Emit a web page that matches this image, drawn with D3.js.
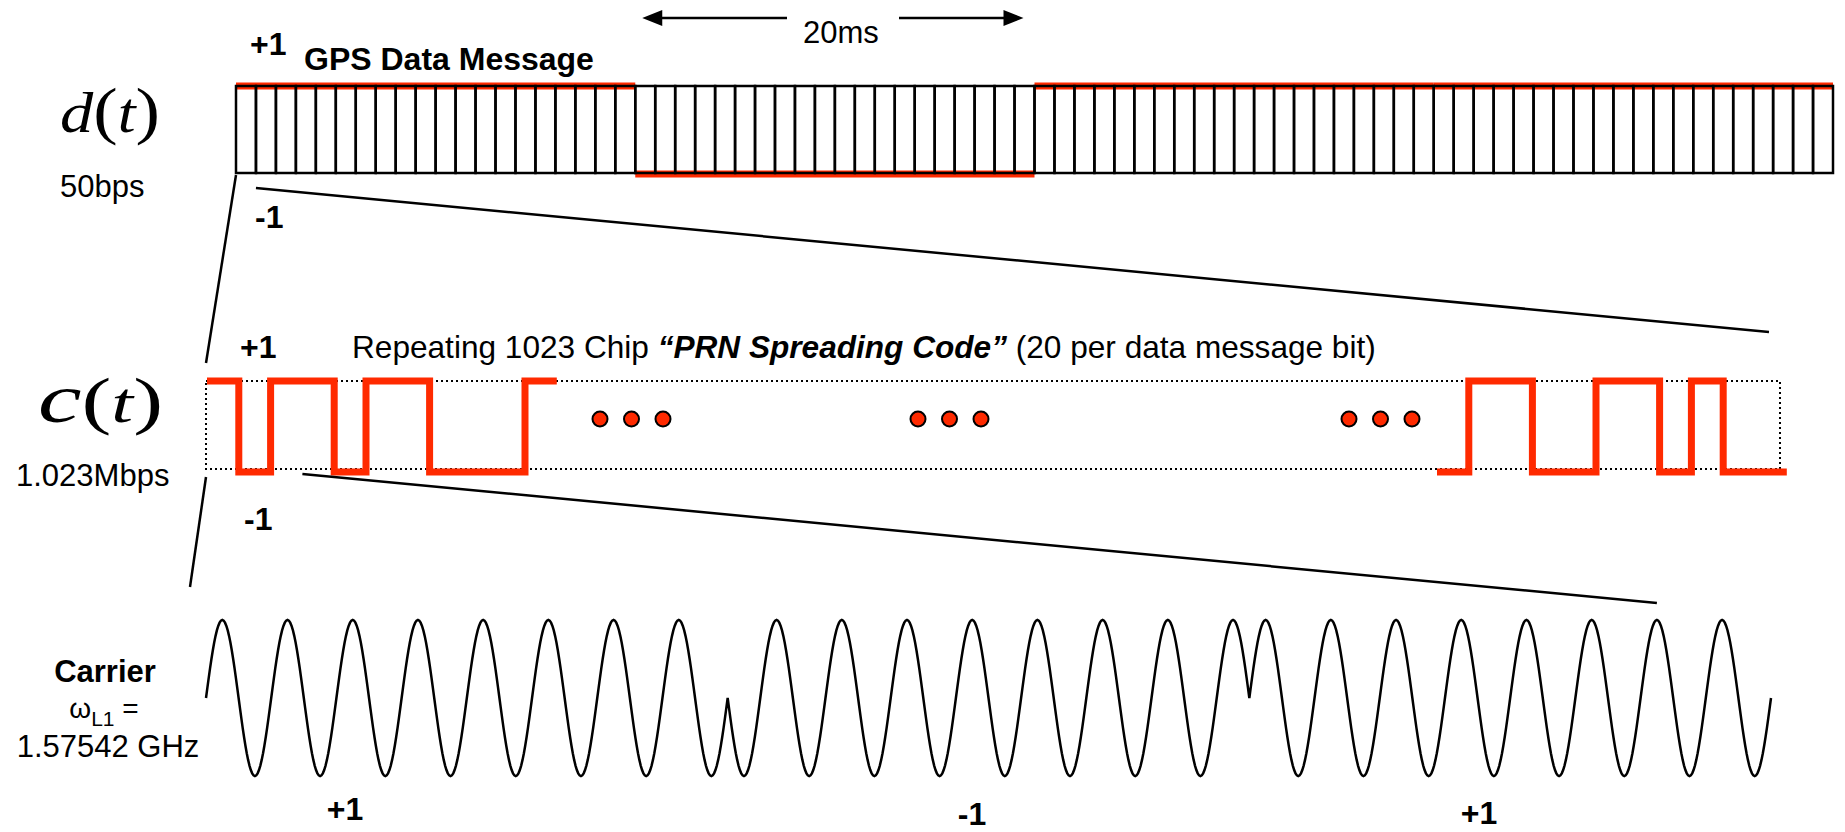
<!DOCTYPE html>
<html>
<head>
<meta charset="utf-8">
<script src="https://cdn.jsdelivr.net/npm/d3@7"></script>
<style>
  body { margin: 0; background: #fff; }
  svg { display: block; }
</style>
</head>
<body>
<div id="chart"></div>
<script>
const width = 1845;
const height = 832;

// d(t): message bits, each bit = 20 cells (20 ms)
const dataBits = [1, -1, 1, 1];
const cellsPerBit = 20;

// c(t): first and last chips shown of the PRN code
const chipsHead = [1, -1, 1, 1, -1, 1, 1, -1, -1, -1, 1];
const chipsTail = [-1, 1, 1, -1, -1, 1, 1, -1, 1, -1, -1];

// carrier phase sign per segment and cycles in each segment
const carrierSigns = [1, -1, 1];
const cyclesPerSign = 8;
const carrierLabels = ["+1", "-1", "+1"];
const carrierLabelX = [345, 972, 1479];

const RED = "#ff2a00";
const SANS = "'Liberation Sans', Arial, sans-serif";
const SERIF = "'Liberation Serif', 'Times New Roman', serif";

const svg = d3.select("#chart")
  .append("svg")
  .attr("width", width)
  .attr("height", height);

// ---------- d(t) ----------
const nCells = dataBits.length * cellsPerBit;
const xBit = d3.scaleLinear().domain([0, nCells]).range([236, 1833]);
const yBit = d3.scaleLinear().domain([-1, 1]).range([174, 86]);

const dG = svg.append("g");

// red level lines under the cells
dG.selectAll("line.level")
  .data(dataBits)
  .join("line")
  .attr("class", "level")
  .attr("x1", (d, i) => xBit(i * cellsPerBit))
  .attr("x2", (d, i) => xBit((i + 1) * cellsPerBit))
  .attr("y1", d => yBit(d))
  .attr("y2", d => yBit(d))
  .attr("stroke", RED)
  .attr("stroke-width", 7);

dG.selectAll("rect.cell")
  .data(d3.range(nCells))
  .join("rect")
  .attr("class", "cell")
  .attr("x", i => xBit(i))
  .attr("y", yBit(1))
  .attr("width", xBit(1) - xBit(0))
  .attr("height", yBit(-1) - yBit(1) - 1)
  .attr("fill", "none")
  .attr("stroke", "#000")
  .attr("stroke-width", 2.5);

// 20ms arrow
const arrowY = 18;
const x20a = xBit(cellsPerBit), x20b = xBit(2 * cellsPerBit);
function arrow(xFrom, xTip) {
  const dir = Math.sign(xTip - xFrom);
  svg.append("line")
    .attr("x1", xFrom).attr("x2", xTip - dir * 16)
    .attr("y1", arrowY).attr("y2", arrowY)
    .attr("stroke", "#000").attr("stroke-width", 2.5);
  svg.append("path")
    .attr("d", `M${xTip},${arrowY} L${xTip - dir * 20},${arrowY - 8} L${xTip - dir * 20},${arrowY + 8} Z`)
    .attr("fill", "#000");
}
arrow(787, x20a + 7);
arrow(899, x20b - 11);
svg.append("text")
  .attr("x", (x20a + x20b) / 2 + 6).attr("y", 43)
  .attr("text-anchor", "middle")
  .attr("font-family", SANS).attr("font-size", 31)
  .text("20ms");

function label(x, y, txt, opts = {}) {
  return svg.append("text")
    .attr("x", x).attr("y", y)
    .attr("font-family", SANS)
    .attr("font-size", opts.size || 31)
    .attr("font-weight", opts.bold ? "bold" : null)
    .attr("text-anchor", opts.anchor || "start")
    .text(txt);
}

label(250, 55, "+1", {bold: true, size: 32});
label(304, 70, "GPS Data Message", {bold: true, size: 32});
label(255, 228, "-1", {bold: true, size: 32});
label(60, 197, "50bps", {size: 31});

// math-style labels
function mathLabel(x, y, letter, w, letterSize) {
  const t = svg.append("text")
    .attr("x", x).attr("y", y)
    .attr("font-family", SERIF)
    .attr("textLength", w)
    .attr("lengthAdjust", "spacingAndGlyphs");
  t.append("tspan").attr("font-style", "italic").attr("font-size", letterSize).text(letter);
  t.append("tspan").attr("font-size", 64).text("(");
  t.append("tspan").attr("font-style", "italic").attr("font-size", 56).text("t");
  t.append("tspan").attr("font-size", 64).text(")");
}
mathLabel(60, 132, "d", 100, 58);
mathLabel(38, 422, "c", 125, 70);

// ---------- c(t) ----------
const cTop = 381, cBottom = 469;
const cLeft = 206, cRight = 1780;
const chipW = 31.8;
const yChip = d3.scaleLinear().domain([-1, 1]).range([472, 381]);

svg.append("rect")
  .attr("x", cLeft).attr("y", cTop)
  .attr("width", cRight - cLeft).attr("height", cBottom - cTop)
  .attr("fill", "none")
  .attr("stroke", "#000")
  .attr("stroke-width", 2)
  .attr("stroke-dasharray", "2,3");

function chipPath(chips, x0) {
  const xs = d3.scaleLinear().domain([0, chips.length]).range([x0, x0 + chips.length * chipW]);
  const pts = chips.map((c, i) => [i, c]).concat([[chips.length, chips[chips.length - 1]]]);
  const line = d3.line()
    .x(d => xs(d[0]))
    .y(d => yChip(d[1]))
    .curve(d3.curveStepAfter);
  svg.append("path")
    .attr("d", line(pts))
    .attr("fill", "none")
    .attr("stroke", RED)
    .attr("stroke-width", 7)
    .attr("stroke-linejoin", "miter");
  return xs;
}
const xHead = chipPath(chipsHead, 207);
chipPath(chipsTail, 1437);

// ellipsis dots
const dotGroups = [600, 918, 1349];
svg.selectAll("circle.dot")
  .data(dotGroups.flatMap(g => [g, g + 31.5, g + 63]))
  .join("circle")
  .attr("class", "dot")
  .attr("cx", d => d)
  .attr("cy", 419)
  .attr("r", 7.5)
  .attr("fill", RED)
  .attr("stroke", "#000")
  .attr("stroke-width", 2);

label(240, 358, "+1", {bold: true, size: 32});
label(244, 530, "-1", {bold: true, size: 32});
label(16, 486, "1.023Mbps", {size: 31});

const cap = svg.append("text")
  .attr("x", 352).attr("y", 358)
  .attr("font-family", SANS).attr("font-size", 31.6);
cap.append("tspan").text("Repeating 1023 Chip ");
cap.append("tspan").attr("font-weight", "bold").attr("font-style", "italic").text("\u201CPRN Spreading Code\u201D");
cap.append("tspan").text(" (20 per data message bit)");

// ---------- carrier ----------
const nCycles = carrierSigns.length * cyclesPerSign;
const xCar = d3.scaleLinear().domain([0, nCycles]).range([206, 1771]);
const yCar = d3.scaleLinear().domain([-1, 1]).range([776, 620]);

const samples = [];
carrierSigns.forEach((s, k) => {
  const steps = cyclesPerSign * 48;
  for (let j = 0; j <= steps; j++) {
    const t = k * cyclesPerSign + j / 48;
    samples.push([t, s * Math.sin(2 * Math.PI * t)]);
  }
});
svg.append("path")
  .attr("d", d3.line().x(d => xCar(d[0])).y(d => yCar(d[1]))(samples))
  .attr("fill", "none")
  .attr("stroke", "#000")
  .attr("stroke-width", 2.5);

carrierLabels.forEach((l, i) => {
  label(carrierLabelX[i], [820, 825, 824][i], l, {bold: true, anchor: "middle", size: 32});
});

label(105, 682, "Carrier", {bold: true, anchor: "middle"});
const om = svg.append("text")
  .attr("x", 104).attr("y", 718)
  .attr("font-family", SANS).attr("font-size", 28)
  .attr("text-anchor", "middle");
om.append("tspan").text("\u03C9");
om.append("tspan").attr("font-size", 21).attr("dy", 8).text("L1");
om.append("tspan").attr("dy", -8).text(" =");
label(108, 757, "1.57542 GHz", {size: 31, anchor: "middle"});

// ---------- connector lines ----------
const connectors = [
  [[xBit(0), 175], [cLeft, 363]],
  [[cLeft, 477], [190, 587]],
  [[xBit(1), 188], [cRight - 11, 332]],
  [[xHead(3), 474], [xCar(nCycles - 1.75), 603]]
];
svg.selectAll("line.conn")
  .data(connectors)
  .join("line")
  .attr("class", "conn")
  .attr("x1", d => d[0][0]).attr("y1", d => d[0][1])
  .attr("x2", d => d[1][0]).attr("y2", d => d[1][1])
  .attr("stroke", "#000")
  .attr("stroke-width", 2.5);
</script>
</body>
</html>
